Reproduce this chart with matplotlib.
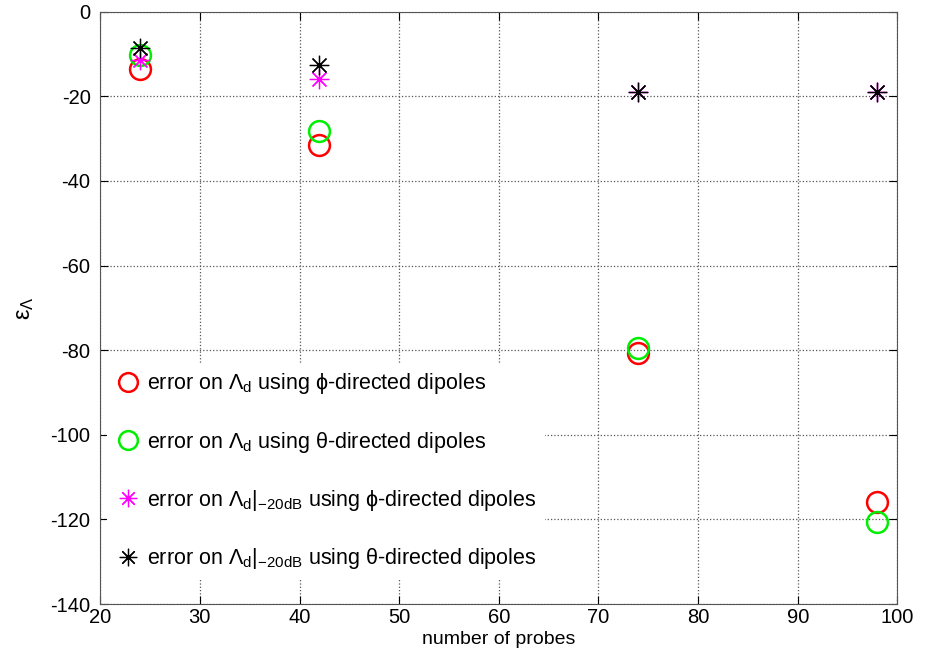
import matplotlib
matplotlib.use("Agg")
import matplotlib.pyplot as plt

plt.rcParams['font.family'] = ['Liberation Sans', 'DejaVu Sans']
plt.rcParams['mathtext.fontset'] = 'custom'
plt.rcParams['mathtext.rm'] = 'Liberation Sans'
plt.rcParams['mathtext.it'] = 'Liberation Sans'
plt.rcParams['mathtext.sf'] = 'Liberation Sans'
plt.rcParams['axes.unicode_minus'] = False

probes = [24, 42, 74, 98]
err_phi = [-13.5, -31.4, -80.6, -115.8]
err_theta = [-10.2, -28.1, -79.4, -120.6]
err_phi_20 = [-11.3, -16.0, -18.9, -18.9]
err_theta_20 = [-8.5, -12.5, -18.9, -18.9]

labels = [
    r'error on $\Lambda_{\mathrm{d}}$ using $\phi$-directed dipoles',
    r'error on $\Lambda_{\mathrm{d}}$ using $\theta$-directed dipoles',
    r'error on $\Lambda_{\mathrm{d}}|_{\mathrm{-20dB}}$ using $\phi$-directed dipoles',
    r'error on $\Lambda_{\mathrm{d}}|_{\mathrm{-20dB}}$ using $\theta$-directed dipoles',
]

fig = plt.figure(figsize=(9.28, 6.51), dpi=100)
ax = fig.add_axes([0.108, 0.072, 0.859, 0.91])

ax.plot(probes, err_phi, 'o', mfc='none', mec='#ff0000', mew=1.8, ms=15, ls='none', label=labels[0])
ax.plot(probes, err_theta, 'o', mfc='none', mec='#00ee00', mew=1.8, ms=15, ls='none', label=labels[1])
ax.plot(probes, err_phi_20, marker=(8, 2, 0), color='#ff00ff', mew=0.9, ms=14, ls='none', label=labels[2])
ax.plot(probes, err_theta_20, marker=(8, 2, 0), color='black', mew=0.9, ms=14, ls='none', label=labels[3])

ax.set_xlim(20, 100)
ax.set_ylim(-140, 0)
ax.set_xticks(range(20, 101, 10))
ax.set_yticks(range(-140, 1, 20))
ax.grid(True, ls=':', color='#555555', lw=0.9)
ax.tick_params(direction='in', top=True, right=True, labelsize=14.5, length=6)
ax.tick_params(axis='x', pad=3)
ax.tick_params(axis='y', pad=7)
for s in ax.spines.values():
    s.set_color('#555555')

ax.set_xlabel('number of probes', fontsize=14, labelpad=3)
ax.set_ylabel(r'$\varepsilon_{\Lambda}$', fontsize=17, labelpad=10)

leg = ax.legend(loc='lower left', bbox_to_anchor=(0.0, 0.03), frameon=True, fontsize=15.5,
                labelspacing=1.55, handletextpad=0.25, handlelength=1.2, borderaxespad=0.3,
                markerscale=0.9)
leg.get_frame().set_edgecolor('none')
leg.get_frame().set_facecolor('white')
leg.get_frame().set_alpha(1)

fig.savefig('out.png', dpi=100)
